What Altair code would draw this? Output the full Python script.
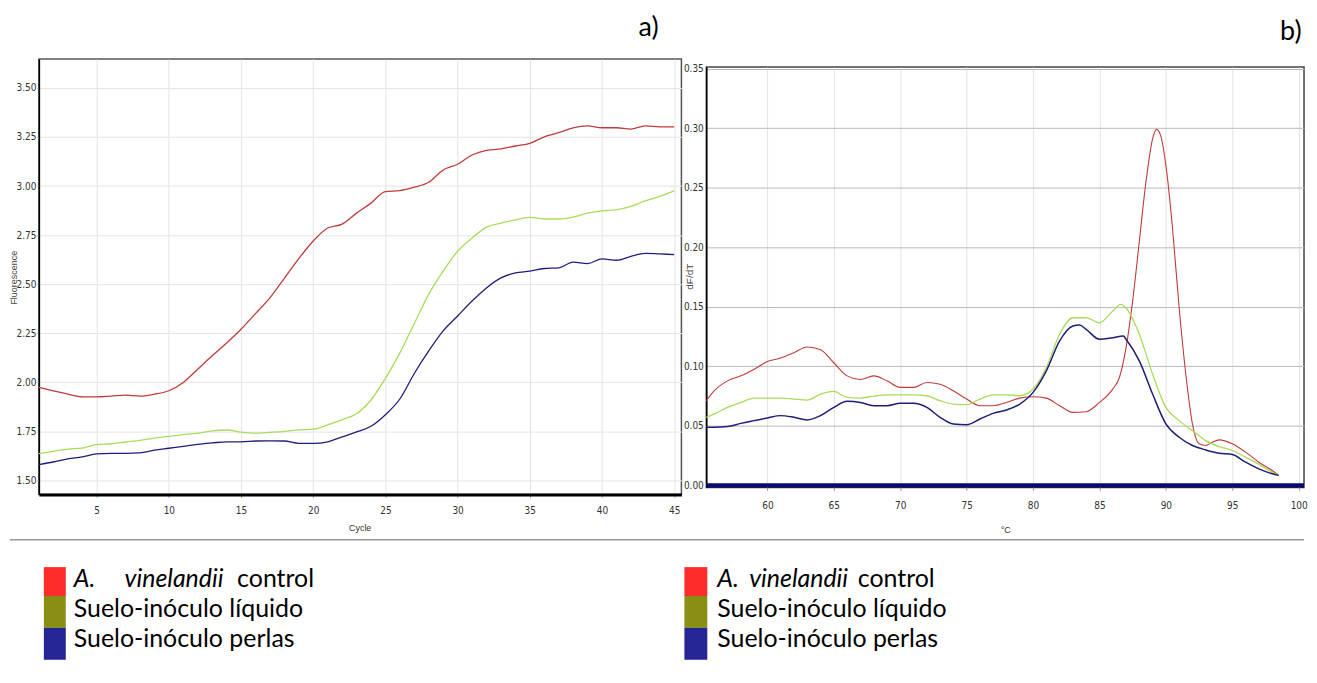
import altair as alt
import pandas as pd

SERIES = ["A. vinelandii control", "Suelo-inóculo líquido", "Suelo-inóculo perlas"]

# ---------- panel a) amplification ----------
cycles = list(range(1, 46))
amp_red = [1.974, 1.957, 1.940, 1.926, 1.926, 1.930, 1.935, 1.930, 1.940, 1.957,
           1.999, 2.067, 2.135, 2.200, 2.270, 2.350, 2.430, 2.530, 2.630, 2.720,
           2.786, 2.806, 2.862, 2.913, 2.972, 2.977, 2.994, 3.019, 3.082, 3.111,
           3.158, 3.182, 3.189, 3.204, 3.217, 3.251, 3.272, 3.297, 3.307, 3.297,
           3.297, 3.290, 3.307, 3.302, 3.302]
amp_green = [1.637, 1.648, 1.660, 1.665, 1.682, 1.687, 1.696, 1.704, 1.716, 1.725,
             1.733, 1.741, 1.753, 1.757, 1.746, 1.741, 1.745, 1.750, 1.758, 1.761,
             1.783, 1.810, 1.840, 1.910, 2.020, 2.150, 2.300, 2.448, 2.566, 2.668,
             2.735, 2.791, 2.811, 2.828, 2.840, 2.832, 2.832, 2.842, 2.862, 2.874,
             2.879, 2.896, 2.925, 2.947, 2.975]
amp_blue = [1.581, 1.594, 1.610, 1.620, 1.635, 1.638, 1.638, 1.640, 1.654, 1.664,
            1.674, 1.684, 1.691, 1.697, 1.697, 1.701, 1.702, 1.701, 1.689, 1.689,
            1.697, 1.722, 1.747, 1.776, 1.835, 1.915, 2.045, 2.160, 2.262, 2.338,
            2.414, 2.481, 2.532, 2.558, 2.566, 2.580, 2.583, 2.612, 2.605, 2.629,
            2.622, 2.642, 2.657, 2.654, 2.651]
amp_x_ticks = [5, 10, 15, 20, 25, 30, 35, 40, 45]
amp_y_ticks = [1.50, 1.75, 2.00, 2.25, 2.50, 2.75, 3.00, 3.25, 3.50]

# ---------- panel b) melting curve ----------
melt_red_t = [55.4, 56, 57, 58, 59, 60, 61, 62, 63, 64, 65, 66, 67, 68, 69, 70, 71, 72, 73, 74,
              75, 76, 77, 78, 79, 80, 81, 82, 83, 84, 85, 86, 86.5, 87, 87.5, 88, 88.5, 89,
              89.3, 89.6, 90, 90.5, 91, 91.5, 92, 92.5, 93, 93.5, 94, 95, 96, 97, 98, 98.5]
melt_red = [0.0711, 0.0795, 0.0878, 0.0920, 0.0976, 0.1040, 0.1070, 0.1115, 0.1163, 0.1140,
            0.1030, 0.0920, 0.0890, 0.0920, 0.0878, 0.0823, 0.0823, 0.0864, 0.0850, 0.0795,
            0.0725, 0.0669, 0.0669, 0.0697, 0.0733, 0.0745, 0.0733, 0.0669, 0.0613, 0.0619,
            0.0697, 0.0809, 0.0906, 0.1157, 0.1550, 0.2050, 0.2550, 0.2910, 0.2990, 0.2940,
            0.2690, 0.2160, 0.1490, 0.0934, 0.0516, 0.0349, 0.0335, 0.0363, 0.0382, 0.0349,
            0.0279, 0.0195, 0.0125, 0.0084]
melt_green_t = [55.4, 56, 57, 58, 59, 60, 61, 62, 63, 64, 65, 66, 67, 68, 69, 70, 71, 72, 73, 74,
                75, 76, 77, 78, 79, 80, 81, 82, 83, 84, 85, 86, 86.6, 87, 88, 89, 90, 91, 92,
                93, 94, 95, 96, 97, 98, 98.5]
melt_green = [0.0572, 0.0600, 0.0655, 0.0697, 0.0733, 0.0733, 0.0733, 0.0725, 0.0717, 0.0767,
              0.0789, 0.0739, 0.0733, 0.0750, 0.0761, 0.0761, 0.0761, 0.0753, 0.0711, 0.0683,
              0.0678, 0.0725, 0.0761, 0.0761, 0.0753, 0.0809, 0.0990, 0.1270, 0.1408, 0.1408,
              0.1366, 0.1464, 0.1520, 0.1490, 0.1270, 0.0934, 0.0655, 0.0544, 0.0460, 0.0376,
              0.0326, 0.0293, 0.0237, 0.0176, 0.0112, 0.0084]
melt_blue_t = [55.4, 56, 57, 58, 59, 60, 61, 62, 63, 64, 65, 66, 67, 68, 69, 70, 71, 72, 73, 74,
               75, 76, 77, 78, 79, 80, 81, 82, 83, 83.5, 84, 85, 86, 86.8, 87, 88, 89, 90, 91,
               92, 93, 94, 95, 96, 97, 98, 98.5]
melt_blue = [0.0488, 0.0488, 0.0494, 0.0521, 0.0544, 0.0566, 0.0586, 0.0572, 0.0550, 0.0586,
             0.0655, 0.0706, 0.0697, 0.0669, 0.0669, 0.0689, 0.0689, 0.0655, 0.0572, 0.0516,
             0.0510, 0.0558, 0.0605, 0.0633, 0.0683, 0.0781, 0.0962, 0.1213, 0.1339, 0.1347,
             0.1310, 0.1227, 0.1241, 0.1255, 0.1227, 0.1046, 0.0767, 0.0516, 0.0404, 0.0335,
             0.0298, 0.0270, 0.0259, 0.0195, 0.0139, 0.0098, 0.0084]
melt_baseline = [0.0]
melt_x_ticks = [60, 65, 70, 75, 80, 85, 90, 95, 100]
melt_y_ticks = [0.00, 0.05, 0.10, 0.15, 0.20, 0.25, 0.30, 0.35]

panel_labels = ["a)", "b)"]
legend_italic = ["A.", "vinelandii"]
legend_rest = ["control", "Suelo-inóculo líquido", "Suelo-inóculo perlas"]

LABEL_FONT = "Liberation Sans Narrow, DejaVu Sans Condensed, Liberation Sans, sans-serif"
TITLE_FONT = "Liberation Sans, Arial, sans-serif"
TEXT_FONT = "Lato, Open Sans, sans-serif"
LEG_SIZE = 25
LEG_COLORS = ["#ff1a1a", "#7f8400", "#12128c"]


def long_df(xname, yname, parts):
    rows = []
    for s, xs, ys in parts:
        for x, y in zip(xs, ys):
            rows.append({xname: x, yname: y, "serie": s})
    return pd.DataFrame(rows)


def one(text):
    return pd.DataFrame({"t": [text]})


def text_mark(text, x, y, size, style="normal", align="left", font=TEXT_FONT, color="#000"):
    return alt.Chart(one(text)).mark_text(
        font=font, fontSize=size, fontStyle=style, align=align,
        baseline="alphabetic", color=color
    ).encode(text="t:N", x=alt.value(x), y=alt.value(y))


def legend_layers(sq_x, sq_x2, sq_tops, txt_x, it_x, ctrl_x, baselines):
    layers = []
    for i in range(3):
        layers.append(
            alt.Chart(one(SERIES[i])).mark_rect(color=LEG_COLORS[i], opacity=0.92).encode(
                x=alt.value(sq_x), x2=alt.value(sq_x2),
                y=alt.value(sq_tops[i]), y2=alt.value(sq_tops[i + 1]))
        )
    layers.append(text_mark(legend_italic[0], txt_x, baselines[0], LEG_SIZE, "italic"))
    layers.append(text_mark(legend_italic[1], it_x, baselines[0], LEG_SIZE, "italic"))
    layers.append(text_mark(legend_rest[0], ctrl_x, baselines[0], LEG_SIZE))
    layers.append(text_mark(legend_rest[1], txt_x, baselines[1], LEG_SIZE))
    layers.append(text_mark(legend_rest[2], txt_x, baselines[2], LEG_SIZE))
    return layers


# ================= panel a =================
W_A, H_A = 645, 437
df_a = long_df("cycle", "fluor", [(SERIES[0], cycles, amp_red),
                                  (SERIES[1], cycles, amp_green),
                                  (SERIES[2], cycles, amp_blue)])

xa = alt.X("cycle:Q", scale=alt.Scale(domain=[1, 45.5], nice=False, zero=False),
           axis=alt.Axis(values=amp_x_ticks, title="Cycle", grid=True, gridColor="#e4e4e4",
                         gridWidth=1, domainColor="#000", domainWidth=3, tickColor="#999",
                         tickSize=3, labelFont=LABEL_FONT, labelFontSize=10, labelColor="#333",
                         labelPadding=8, labelFlush=False, titleFont=TITLE_FONT, titleFontSize=9,
                         titleFontWeight="normal", titleColor="#333", titleX=322,
                         titleY=33, titleBaseline="middle"))
ya = alt.Y("fluor:Q", scale=alt.Scale(domain=[1.429, 3.647], nice=False, zero=False),
           axis=alt.Axis(values=amp_y_ticks, format=".2f", title="Fluorescence", grid=True,
                         gridColor="#e4e4e4", gridWidth=1, domainColor="#000", domainWidth=1.5,
                         tickColor="#999", tickSize=2, labelFont=LABEL_FONT, labelFontSize=10,
                         labelColor="#333", labelPadding=1, labelFlush=False,
                         titleFont=TITLE_FONT, titleFontSize=9, titleFontWeight="normal",
                         titleColor="#444", titleX=-25, titleY=219, titleAngle=270,
                         titleAlign="center", titleBaseline="middle"))
color_a = alt.Color("serie:N", scale=alt.Scale(domain=SERIES,
                    range=["#c13b3b", "#a9dc5c", "#1e1e78"]), legend=None)

lines_a = alt.Chart(df_a).mark_line(strokeWidth=1.3, interpolate="monotone").encode(
    x=xa, y=ya, color=color_a)

sep = alt.Chart(one("sep")).mark_rule(color="#9a9a9a", strokeWidth=1.5).encode(
    x=alt.value(-29), x2=alt.value(1270), y=alt.value(482.5))
top_anchor = alt.Chart(one("top")).mark_rule(opacity=0).encode(
    x=alt.value(0), x2=alt.value(10), y=alt.value(-49))

layers_a = [lines_a, sep, top_anchor,
            text_mark(panel_labels[0], 602, -23, 27)]
layers_a += legend_layers(5, 27, [510, 539, 571, 603], 35, 86, 199, [530, 560, 590])

panel_a = alt.layer(*layers_a).properties(
    width=W_A, height=H_A, view=alt.ViewBackground(stroke="#555", strokeWidth=1.5))

# ================= panel b =================
W_B, H_B = 600, 422
df_b = long_df("temp", "dfdt", [(SERIES[0], melt_red_t, melt_red),
                                (SERIES[1], melt_green_t, melt_green),
                                (SERIES[2], melt_blue_t, melt_blue)])

yscale_b = alt.Scale(domain=[-0.0017, 0.3514], nice=False, zero=False)
xb = alt.X("temp:Q", scale=alt.Scale(domain=[55.4, 100.4], nice=False, zero=False),
           axis=alt.Axis(values=melt_x_ticks, title="°C", grid=True, gridColor="#e4e4e4",
                         gridWidth=1, domain=False, tickColor="#999", tickSize=3,
                         labelFont=LABEL_FONT, labelFontSize=10, labelColor="#333",
                         labelPadding=10, labelFlush=False, titleFont=TITLE_FONT,
                         titleFontSize=9, titleFontWeight="normal", titleColor="#333",
                         titleX=300, titleY=42, titleBaseline="middle"))
yb = alt.Y("dfdt:Q", scale=yscale_b,
           axis=alt.Axis(values=melt_y_ticks, format=".2f", title="dF/dT", grid=True,
                         gridColor="#b9b9b9", gridWidth=1, domainColor="#000", domainWidth=1.5,
                         tickSize=0, labelFont=LABEL_FONT, labelFontSize=10, labelColor="#333",
                         labelPadding=3, labelFlush=False, titleFont=TITLE_FONT,
                         titleFontSize=10, titleFontWeight="normal", titleColor="#444",
                         titleX=-17, titleY=210, titleAngle=270, titleAlign="center",
                         titleBaseline="middle"))
color_b = alt.Color("serie:N", scale=alt.Scale(domain=SERIES,
                    range=["#dd6a5e", "#7fd04a", "#3a3aa8"]), legend=None)
width_b = alt.StrokeWidth("serie:N", scale=alt.Scale(domain=SERIES, range=[1.1, 1.5, 1.5]),
                          legend=None)

base_b = alt.Chart(pd.DataFrame({"v": melt_baseline})).mark_rule(
    color="#0b0b6e", strokeWidth=4.5).encode(y=alt.Y("v:Q", scale=yscale_b))
lines_b = alt.Chart(df_b).mark_line(interpolate="monotone").encode(
    x=xb, y=yb, color=color_b, strokeWidth=width_b)

layers_b = [lines_b, base_b, text_mark(panel_labels[1], 576, -27, 27)]
layers_b += legend_layers(-22, 1, [502, 531, 563, 595], 11, 43, 152, [522, 552, 582])

panel_b = alt.layer(*layers_b).properties(
    width=W_B, height=H_B, view=alt.ViewBackground(stroke="#444", strokeWidth=1.5))

spacer = alt.Chart(one("s")).mark_point(opacity=0).encode(
    x=alt.value(0), y=alt.value(0)).properties(
    width=W_B, height=8, view=alt.ViewBackground(stroke=None))

right = alt.vconcat(spacer, panel_b, spacing=0, bounds="flush")

chart = alt.hconcat(panel_a, right, spacing=25, bounds="flush").properties(
    padding={"left": 0, "top": 0, "right": 0, "bottom": 0},
    background="white",
)

chart.save("out.html", embed_options={"renderer": "svg", "actions": False})
